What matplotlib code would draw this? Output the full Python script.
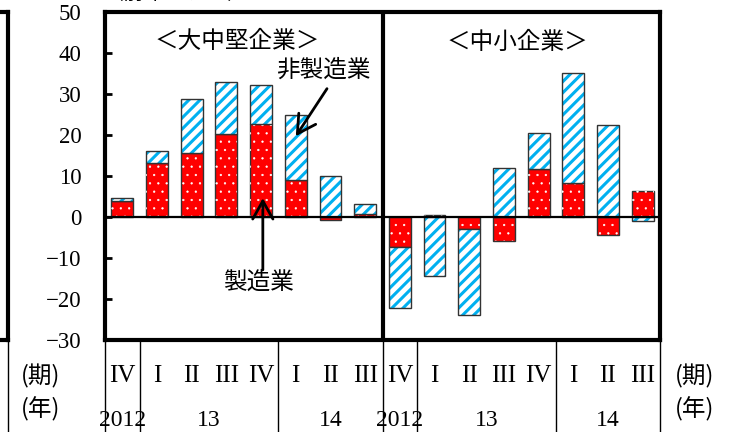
import matplotlib

matplotlib.use('Agg')
import numpy as np
import matplotlib.pyplot as plt
import matplotlib.transforms as mtransforms
from matplotlib.lines import Line2D

plt.rcParams['font.family'] = ['Liberation Serif', 'Noto Sans CJK JP']

JP = ['Noto Sans CJK JP', 'DejaVu Sans']
RED = '#FF0000'
BLUE = '#00B0F0'

# quarters: 2012 IV .. 2014 III, two groups of firms
quarters = ['IV', 'I', 'II', 'III', 'IV', 'I', 'II', 'III']
years = ['2012', '13', '14']
panels = ['＜大中堅企業＞', '＜中小企業＞']

# contributions (前年比、%)
large_mfg = [4.0, 13.2, 15.6, 20.3, 22.7, 9.0, -0.7, 0.8]
large_nonmfg = [0.6, 2.9, 13.3, 12.7, 9.5, 15.8, 10.0, 2.4]
small_mfg = [-7.4, 0.5, -2.9, -5.9, 11.8, 8.3, -4.4, 6.4]
small_nonmfg = [-14.9, -14.3, -20.9, 12.0, 8.8, 26.7, 22.5, -1.0]

mfg = np.array(large_mfg + small_mfg)
nonmfg = np.array(large_nonmfg + small_nonmfg)
x = np.arange(len(mfg))
# non-manufacturing stacks on manufacturing only when signs agree
bottom = np.where(np.sign(mfg) == np.sign(nonmfg), mfg, 0.0)

fig = plt.figure(figsize=(7.41, 4.32), dpi=100)
ax = fig.add_axes([105 / 741, 92 / 432, 555 / 741, 328 / 432])

w = 0.63
plt.rcParams['hatch.linewidth'] = 0.4
ax.bar(x, mfg, w, color=RED, edgecolor='#333333', linewidth=1, zorder=2)
ax.bar(x, mfg, w, color='none', edgecolor='white', hatch='..', linewidth=0, zorder=3)
plt.rcParams['hatch.linewidth'] = 2.2
ax.bar(x, nonmfg, w, bottom=bottom, color='white', edgecolor=BLUE, hatch='///', linewidth=0, zorder=2)
ax.bar(x, nonmfg, w, bottom=bottom, color='none', edgecolor='#333333', linewidth=1, zorder=3)

ax.axhline(0, color='k', lw=1.6, zorder=4)
ax.axvline(7.5, color='k', lw=3, zorder=5)

ax.set_xlim(-0.5, 15.5)
ax.set_ylim(-30, 50)
yt = np.arange(-30, 51, 10)
ax.set_yticks(yt)
ax.set_yticklabels([str(v).replace('-', '\u2212') for v in yt], fontsize=16.5)
ax.tick_params(axis='y', direction='in', length=5, width=2, pad=17)
ax.set_xticks([])
for s in ax.spines.values():
    s.set_linewidth(3)

trans = mtransforms.blended_transform_factory(ax.transData, ax.transAxes)

# category table under the axes
for xv in [-0.5, 0.5, 4.5, 7.5, 8.5, 12.5, 15.5]:
    ax.plot([xv, xv], [0, -0.35], color='k', lw=1, transform=trans, clip_on=False)
for i, q in enumerate(quarters + quarters):
    ax.text(i, -0.11, q, transform=trans, ha='center', va='center', fontsize=18)
for off in [0, 8]:
    for xv, yr in zip([0, 2.5, 6.0], years):
        ax.text(xv + off, -0.245, yr, transform=trans, ha='center', va='center', fontsize=17)
for xv in [-2.37, 16.5]:
    ax.text(xv, -0.11, '(期)', transform=trans, ha='center', va='center', fontsize=17, family=JP)
    ax.text(xv, -0.21, '(年)', transform=trans, ha='center', va='center', fontsize=17, family=JP)

ax.text(3.3, 42.7, panels[0], ha='center', va='center', fontsize=17, family=JP)
ax.text(11.38, 42.5, panels[1], ha='center', va='center', fontsize=17, family=JP)

arrow = dict(arrowstyle='->, head_length=0.5, head_width=0.28', lw=2, color='k',
             mutation_scale=26, shrinkA=0, shrinkB=0)
ax.text(5.78, 35.9, '非製造業', ha='center', va='center', fontsize=17, family=JP)
ax.annotate('', xy=(5.0, 19.7), xytext=(5.9, 31.3), arrowprops=arrow)
ax.text(3.93, -16.0, '製造業', ha='center', va='center', fontsize=17, family=JP)
ax.annotate('', xy=(4.05, 4.6), xytext=(4.05, -12.9), arrowprops=arrow)

# unit label cut off at the top edge, and the frame of the neighbouring chart
fig.text(103 / 741, 1 + 7 / 432, '（前年比、％）', ha='left', va='center', fontsize=15, family=JP)
fx = 8 / 741
y0, y1 = 92 / 432, 1 - 12 / 432
fig.add_artist(Line2D([fx, fx], [y0, y1], color='k', lw=3))
fig.add_artist(Line2D([0, fx], [y1, y1], color='k', lw=3))
fig.add_artist(Line2D([0, fx], [y0, y0], color='k', lw=3))
fig.add_artist(Line2D([fx, fx], [0, y0], color='k', lw=1))

fig.savefig('out.png', dpi=100)
